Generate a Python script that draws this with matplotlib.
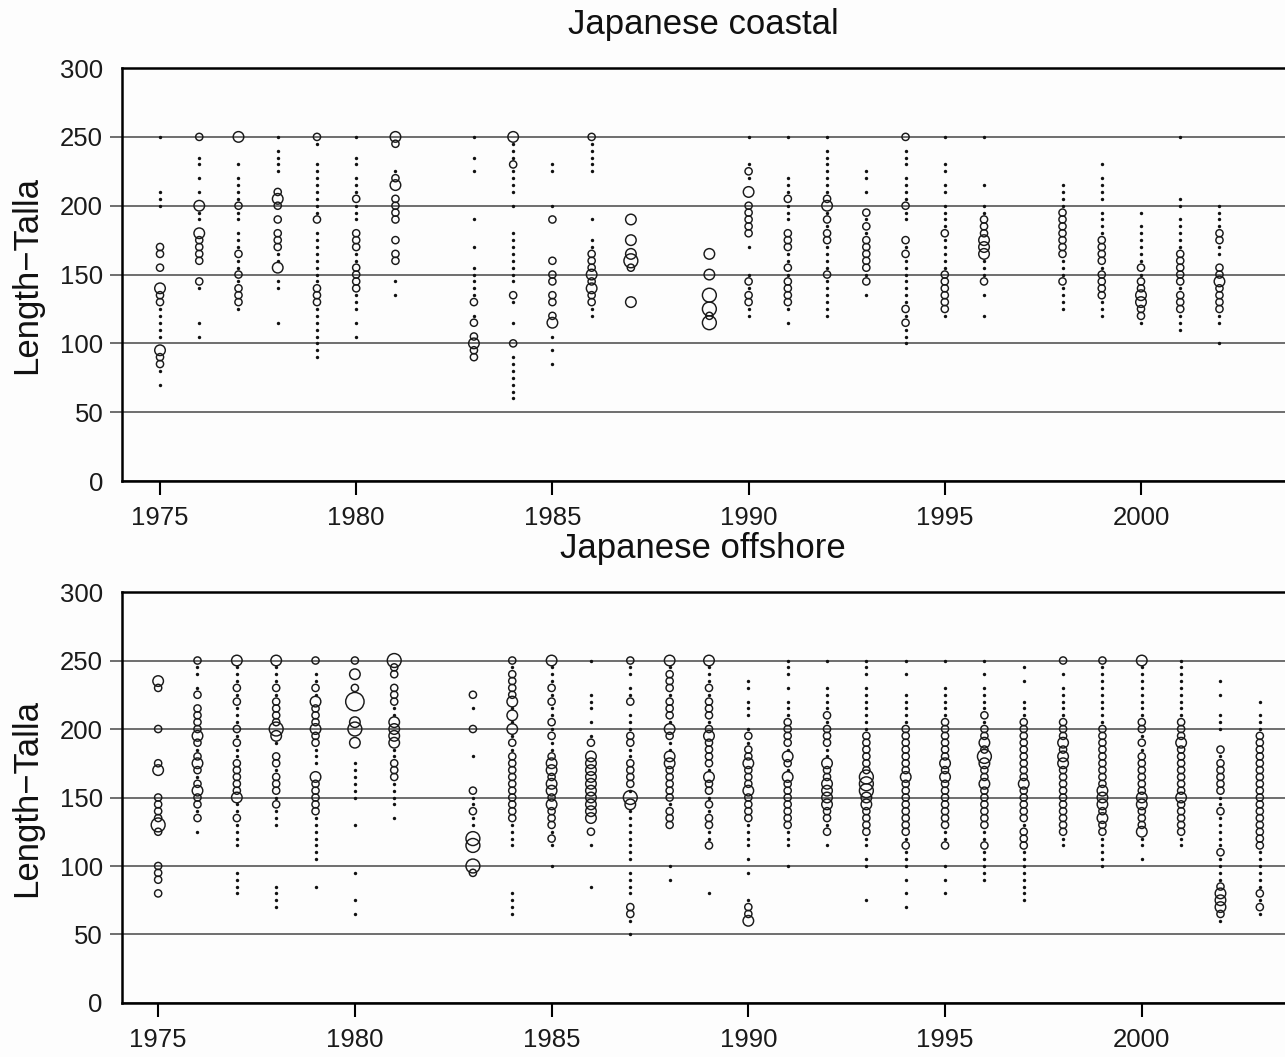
import matplotlib.pyplot as plt

plt.rcParams['font.family'] = ['Liberation Sans', 'DejaVu Sans']

# size class of each 5 cm length bin: 1 = few (dot), 2..5 = increasing frequency (circles)
coastal_years = [1975, 1976, 1977, 1978, 1979, 1980, 1981, 1983, 1984, 1985, 1986, 1987,
                 1989, 1990, 1991, 1992, 1993, 1994, 1995, 1996, 1998, 1999, 2000, 2001, 2002]
coastal_obs = [
    [(250, 1), (210, 1), (205, 1), (200, 1), (170, 2), (165, 2), (155, 2), (140, 3), (135, 2), (130, 2), (125, 1),
     (120, 1), (115, 1), (110, 1), (105, 1), (95, 3), (90, 2), (85, 2), (80, 1), (70, 1)],
    [(250, 2), (235, 1), (230, 1), (220, 1), (210, 1), (200, 3), (195, 1), (190, 1), (180, 3), (175, 2), (170, 2),
     (165, 2), (160, 2), (145, 2), (140, 1), (115, 1), (105, 1)],
    [(250, 3), (230, 1), (220, 1), (215, 1), (210, 1), (205, 1), (200, 2), (195, 1), (190, 1), (180, 1), (175, 1),
     (170, 1), (165, 2), (160, 1), (155, 1), (150, 2), (145, 1), (140, 2), (135, 2), (130, 2), (125, 1)],
    [(250, 1), (240, 1), (235, 1), (230, 1), (225, 1), (210, 2), (205, 3), (200, 2), (190, 2), (180, 2), (175, 2),
     (170, 2), (165, 1), (160, 1), (155, 3), (145, 1), (140, 1), (115, 1)],
    [(250, 2), (245, 1), (230, 1), (225, 1), (220, 1), (215, 1), (210, 1), (205, 1), (200, 1), (195, 1), (190, 2),
     (180, 1), (175, 1), (170, 1), (165, 1), (160, 1), (155, 1), (150, 1), (145, 1), (140, 2), (135, 2), (130, 2),
     (125, 1), (120, 1), (115, 1), (110, 1), (105, 1), (100, 1), (95, 1), (90, 1)],
    [(250, 1), (235, 1), (230, 1), (220, 1), (215, 1), (210, 1), (205, 2), (200, 1), (195, 1), (190, 1), (180, 2),
     (175, 2), (170, 2), (165, 1), (160, 1), (155, 2), (150, 2), (145, 2), (140, 2), (135, 1), (130, 1), (125, 1),
     (115, 1), (105, 1)],
    [(250, 3), (245, 2), (225, 1), (220, 2), (215, 3), (205, 2), (200, 2), (195, 2), (190, 2), (175, 2), (165, 2),
     (160, 2), (145, 1), (135, 1)],
    [(250, 1), (235, 1), (225, 1), (190, 1), (170, 1), (155, 1), (150, 1), (145, 1), (140, 1), (135, 1), (130, 2),
     (120, 1), (115, 2), (105, 2), (100, 3), (95, 2), (90, 2)],
    [(250, 3), (245, 1), (240, 1), (235, 1), (230, 2), (225, 1), (220, 1), (215, 1), (210, 1), (200, 1), (180, 1),
     (175, 1), (170, 1), (165, 1), (160, 1), (155, 1), (150, 1), (145, 1), (135, 2), (130, 1), (115, 1), (100, 2),
     (90, 1), (85, 1), (80, 1), (75, 1), (70, 1), (65, 1), (60, 1)],
    [(230, 1), (225, 1), (200, 1), (190, 2), (160, 2), (150, 2), (145, 2), (135, 2), (130, 2), (120, 2), (115, 3),
     (105, 1), (95, 1), (85, 1)],
    [(250, 2), (245, 1), (240, 1), (235, 1), (230, 1), (225, 1), (190, 1), (175, 1), (170, 1), (165, 2), (160, 2),
     (155, 2), (150, 3), (145, 2), (140, 3), (135, 2), (130, 2), (125, 1), (120, 1)],
    [(190, 3), (175, 3), (165, 3), (160, 4), (155, 2), (130, 3)],
    [(165, 3), (150, 3), (135, 4), (125, 4), (120, 2), (115, 4)],
    [(250, 1), (230, 1), (225, 2), (220, 1), (210, 3), (200, 2), (195, 2), (190, 2), (185, 2), (180, 2), (170, 1),
     (150, 1), (145, 2), (140, 1), (135, 2), (130, 2), (125, 1), (120, 1)],
    [(250, 1), (220, 1), (215, 1), (210, 1), (205, 2), (200, 1), (195, 1), (190, 1), (180, 2), (175, 2), (170, 2),
     (165, 1), (160, 1), (155, 2), (150, 1), (145, 2), (140, 2), (135, 2), (130, 2), (125, 1), (115, 1)],
    [(250, 1), (240, 1), (235, 1), (230, 1), (225, 1), (220, 1), (215, 1), (210, 1), (205, 2), (200, 3), (195, 1),
     (190, 2), (185, 1), (180, 2), (175, 2), (170, 1), (165, 1), (160, 1), (155, 1), (150, 2), (145, 1), (140, 1),
     (135, 1), (130, 1), (125, 1), (120, 1)],
    [(225, 1), (220, 1), (210, 1), (195, 2), (190, 1), (185, 2), (180, 1), (175, 2), (170, 2), (165, 2), (160, 2),
     (155, 2), (150, 1), (145, 2), (135, 1)],
    [(250, 2), (240, 1), (235, 1), (230, 1), (220, 1), (215, 1), (210, 1), (205, 1), (200, 2), (195, 1), (190, 1),
     (175, 2), (170, 1), (165, 2), (160, 1), (155, 1), (150, 1), (145, 1), (140, 1), (135, 1), (130, 1), (125, 2),
     (120, 1), (115, 2), (110, 1), (105, 1), (100, 1)],
    [(250, 1), (230, 1), (225, 1), (215, 1), (210, 1), (200, 1), (195, 1), (190, 1), (185, 1), (180, 2), (175, 1),
     (170, 1), (165, 1), (160, 1), (155, 1), (150, 2), (145, 2), (140, 2), (135, 2), (130, 2), (125, 2), (120, 1)],
    [(250, 1), (215, 1), (200, 1), (195, 1), (190, 2), (185, 2), (180, 2), (175, 3), (170, 3), (165, 3), (160, 1),
     (155, 1), (150, 1), (145, 2), (135, 1), (120, 1)],
    [(215, 1), (210, 1), (205, 1), (200, 1), (195, 2), (190, 2), (185, 2), (180, 2), (175, 2), (170, 2), (165, 2),
     (160, 1), (155, 1), (150, 1), (145, 2), (140, 1), (135, 1), (130, 1), (125, 1)],
    [(230, 1), (220, 1), (215, 1), (210, 1), (205, 1), (195, 1), (190, 1), (185, 1), (180, 1), (175, 2), (170, 2),
     (165, 2), (160, 2), (155, 1), (150, 2), (145, 2), (140, 2), (135, 2), (130, 1), (125, 1), (120, 1)],
    [(195, 1), (185, 1), (180, 1), (175, 1), (170, 1), (165, 1), (160, 1), (155, 2), (150, 1), (145, 2), (140, 2),
     (135, 3), (130, 3), (125, 2), (120, 2), (115, 1)],
    [(250, 1), (205, 1), (200, 1), (190, 1), (185, 1), (180, 1), (175, 1), (170, 1), (165, 2), (160, 2), (155, 2),
     (150, 2), (145, 2), (140, 1), (135, 2), (130, 2), (125, 2), (120, 1), (115, 1), (110, 1)],
    [(200, 1), (195, 1), (190, 1), (185, 1), (180, 2), (175, 2), (170, 1), (165, 1), (155, 2), (150, 2), (145, 3),
     (140, 2), (135, 2), (130, 2), (125, 2), (120, 1), (115, 1), (100, 1)],
]

offshore_years = [1975, 1976, 1977, 1978, 1979, 1980, 1981, 1983, 1984, 1985, 1986, 1987, 1988, 1989,
                  1990, 1991, 1992, 1993, 1994, 1995, 1996, 1997, 1998, 1999, 2000, 2001, 2002, 2003]
offshore_obs = [
    [(235, 3), (230, 2), (200, 2), (175, 2), (170, 3), (150, 2), (145, 2), (140, 2), (135, 2), (130, 4), (125, 2),
     (100, 2), (95, 2), (90, 2), (80, 2)],
    [(250, 2), (245, 1), (240, 1), (230, 1), (225, 2), (215, 2), (210, 2), (205, 2), (200, 2), (195, 3), (190, 2),
     (185, 1), (180, 2), (175, 3), (170, 2), (165, 1), (160, 2), (155, 3), (150, 2), (145, 2), (140, 1), (135, 2),
     (125, 1)],
    [(250, 3), (245, 1), (240, 1), (235, 1), (230, 2), (225, 1), (220, 2), (215, 1), (210, 1), (205, 1), (200, 2),
     (195, 1), (190, 2), (185, 1), (180, 1), (175, 2), (170, 2), (165, 2), (160, 2), (155, 2), (150, 3), (145, 1),
     (140, 1), (135, 2), (130, 1), (125, 1), (120, 1), (115, 1), (95, 1), (90, 1), (85, 1), (80, 1)],
    [(250, 3), (245, 1), (240, 1), (235, 1), (230, 2), (225, 1), (220, 2), (215, 2), (210, 2), (205, 2), (200, 4),
     (195, 3), (190, 1), (180, 2), (175, 2), (170, 1), (165, 2), (160, 2), (155, 2), (150, 1), (145, 2), (140, 1),
     (135, 1), (130, 1), (85, 1), (80, 1), (75, 1), (70, 1)],
    [(250, 2), (240, 1), (235, 1), (230, 2), (225, 1), (220, 3), (215, 2), (210, 2), (205, 2), (200, 3), (195, 2),
     (190, 2), (185, 1), (180, 1), (175, 1), (165, 3), (160, 2), (155, 2), (150, 2), (145, 2), (140, 2), (135, 1),
     (130, 1), (125, 1), (120, 1), (115, 1), (110, 1), (105, 1), (85, 1)],
    [(250, 2), (240, 3), (230, 2), (220, 5), (205, 3), (200, 4), (190, 3), (175, 1), (170, 1), (165, 1), (160, 1),
     (155, 1), (150, 1), (130, 1), (95, 1), (75, 1), (65, 1)],
    [(250, 4), (245, 2), (240, 2), (230, 2), (225, 2), (220, 2), (215, 1), (210, 1), (205, 3), (200, 3), (195, 3),
     (190, 3), (185, 1), (180, 1), (175, 2), (170, 2), (165, 2), (160, 1), (155, 1), (150, 1), (145, 1), (135, 1)],
    [(225, 2), (215, 1), (200, 2), (180, 1), (155, 2), (150, 1), (145, 1), (140, 2), (135, 1), (130, 1), (120, 4),
     (115, 4), (100, 4), (95, 2)],
    [(250, 2), (245, 1), (240, 2), (235, 2), (230, 2), (225, 2), (220, 3), (215, 1), (210, 3), (205, 1), (200, 3),
     (195, 1), (190, 2), (185, 1), (180, 2), (175, 2), (170, 2), (165, 2), (160, 2), (155, 2), (150, 2), (145, 2),
     (140, 2), (135, 2), (130, 1), (125, 1), (120, 1), (115, 1), (80, 1), (75, 1), (70, 1), (65, 1)],
    [(250, 3), (245, 1), (240, 1), (235, 1), (230, 2), (225, 1), (220, 2), (215, 1), (210, 1), (205, 2), (200, 1),
     (195, 2), (190, 1), (185, 1), (180, 2), (175, 3), (170, 3), (165, 2), (160, 3), (155, 3), (150, 2), (145, 3),
     (140, 2), (135, 2), (130, 2), (125, 1), (120, 2), (115, 1), (100, 1)],
    [(250, 1), (225, 1), (220, 1), (215, 1), (205, 1), (195, 1), (190, 2), (180, 3), (175, 3), (170, 3), (165, 3),
     (160, 3), (155, 3), (150, 3), (145, 3), (140, 3), (135, 3), (125, 2), (115, 1), (85, 1)],
    [(250, 2), (245, 1), (240, 1), (230, 1), (225, 1), (220, 2), (210, 1), (205, 1), (200, 1), (195, 2), (190, 2),
     (185, 1), (180, 1), (175, 2), (170, 2), (165, 2), (160, 2), (155, 1), (150, 4), (145, 3), (140, 1), (135, 1),
     (130, 1), (125, 1), (120, 1), (115, 1), (110, 1), (105, 1), (95, 1), (90, 1), (85, 1), (80, 1), (70, 2),
     (65, 2), (60, 1), (50, 1)],
    [(250, 3), (245, 1), (240, 2), (235, 2), (230, 2), (225, 1), (220, 2), (215, 2), (210, 2), (205, 1), (200, 3),
     (195, 2), (190, 1), (185, 1), (180, 3), (175, 3), (170, 2), (165, 2), (160, 2), (155, 2), (150, 2), (145, 1),
     (140, 2), (135, 2), (130, 2), (100, 1), (90, 1)],
    [(250, 3), (245, 1), (240, 1), (235, 1), (230, 2), (225, 1), (220, 2), (215, 2), (210, 2), (205, 1), (200, 2),
     (195, 3), (190, 2), (185, 2), (180, 2), (175, 2), (170, 1), (165, 3), (160, 2), (155, 2), (150, 1), (145, 2),
     (140, 1), (135, 2), (130, 2), (125, 1), (120, 1), (115, 2), (80, 1)],
    [(235, 1), (230, 1), (220, 1), (215, 1), (210, 1), (200, 1), (195, 2), (190, 1), (185, 2), (180, 2), (175, 3),
     (170, 2), (165, 2), (160, 2), (155, 3), (150, 2), (145, 2), (140, 2), (135, 2), (130, 1), (125, 1), (120, 1),
     (115, 1), (105, 1), (95, 1), (75, 1), (70, 2), (65, 2), (60, 3)],
    [(250, 1), (245, 1), (240, 1), (230, 1), (220, 1), (215, 1), (210, 1), (205, 2), (200, 2), (195, 2), (190, 2),
     (185, 1), (180, 3), (175, 2), (170, 1), (165, 3), (160, 2), (155, 2), (150, 2), (145, 2), (140, 2), (135, 2),
     (130, 2), (125, 1), (120, 1), (115, 1), (100, 1)],
    [(250, 1), (230, 1), (225, 1), (220, 1), (215, 1), (210, 2), (205, 1), (200, 2), (195, 2), (190, 2), (185, 1),
     (180, 1), (175, 3), (170, 2), (165, 2), (160, 3), (155, 3), (150, 3), (145, 3), (140, 2), (135, 2), (130, 1),
     (125, 2), (115, 1)],
    [(250, 1), (245, 1), (240, 1), (230, 1), (225, 1), (220, 1), (215, 1), (210, 1), (205, 1), (200, 1), (195, 2),
     (190, 2), (185, 2), (180, 2), (175, 2), (170, 2), (165, 4), (160, 4), (155, 4), (150, 3), (145, 3), (140, 2),
     (135, 2), (130, 2), (125, 2), (120, 1), (115, 1), (105, 1), (100, 1), (75, 1)],
    [(250, 1), (240, 1), (225, 1), (220, 1), (215, 1), (210, 1), (205, 1), (200, 2), (195, 2), (190, 2), (185, 2),
     (180, 2), (175, 2), (170, 2), (165, 3), (160, 2), (155, 2), (150, 2), (145, 2), (140, 2), (135, 2), (130, 2),
     (125, 2), (120, 1), (115, 2), (110, 1), (105, 1), (100, 1), (90, 1), (80, 1), (70, 1)],
    [(250, 1), (230, 1), (225, 1), (220, 1), (215, 1), (210, 1), (205, 2), (200, 2), (195, 2), (190, 2), (185, 2),
     (180, 2), (175, 3), (170, 2), (165, 3), (160, 2), (155, 2), (150, 2), (145, 2), (140, 2), (135, 2), (130, 2),
     (125, 1), (120, 1), (115, 2), (100, 1), (90, 1), (80, 1)],
    [(250, 1), (240, 1), (230, 1), (225, 1), (220, 1), (215, 1), (210, 2), (205, 1), (200, 2), (195, 2), (190, 3),
     (185, 2), (180, 4), (175, 3), (170, 2), (165, 2), (160, 3), (155, 2), (150, 2), (145, 2), (140, 2), (135, 2),
     (130, 2), (125, 1), (120, 1), (115, 2), (110, 1), (105, 1), (100, 1), (95, 1), (90, 1)],
    [(245, 1), (235, 1), (220, 1), (215, 1), (210, 1), (205, 2), (200, 2), (195, 2), (190, 2), (185, 2), (180, 2),
     (175, 2), (170, 2), (165, 2), (160, 3), (155, 2), (150, 2), (145, 2), (140, 2), (135, 2), (130, 1), (125, 2),
     (120, 2), (115, 2), (110, 1), (105, 1), (100, 1), (95, 1), (90, 1), (85, 1), (80, 1), (75, 1)],
    [(250, 2), (240, 1), (230, 1), (225, 1), (220, 1), (215, 1), (210, 1), (205, 2), (200, 2), (195, 2), (190, 3),
     (185, 2), (180, 3), (175, 3), (170, 2), (165, 2), (160, 2), (155, 2), (150, 2), (145, 2), (140, 2), (135, 2),
     (130, 2), (125, 2), (120, 1), (115, 1)],
    [(250, 2), (245, 1), (240, 1), (235, 1), (230, 1), (225, 1), (220, 1), (215, 1), (210, 1), (205, 1), (200, 2),
     (195, 2), (190, 2), (185, 2), (180, 2), (175, 2), (170, 2), (165, 2), (160, 2), (155, 3), (150, 3), (145, 3),
     (140, 2), (135, 3), (130, 2), (125, 2), (120, 1), (115, 1), (110, 1), (105, 1), (100, 1)],
    [(250, 3), (245, 1), (240, 1), (235, 1), (230, 1), (225, 1), (220, 1), (215, 1), (210, 1), (205, 2), (200, 2),
     (195, 1), (190, 2), (185, 1), (180, 2), (175, 2), (170, 2), (165, 2), (160, 2), (155, 2), (150, 3), (145, 3),
     (140, 2), (135, 2), (130, 2), (125, 3), (120, 1), (115, 1), (105, 1)],
    [(250, 1), (245, 1), (240, 1), (235, 1), (230, 1), (225, 1), (220, 1), (215, 1), (210, 1), (205, 2), (200, 2),
     (195, 2), (190, 3), (185, 2), (180, 2), (175, 2), (170, 2), (165, 2), (160, 2), (155, 2), (150, 3), (145, 2),
     (140, 2), (135, 2), (130, 2), (125, 2), (120, 1), (115, 1)],
    [(235, 1), (225, 1), (210, 1), (205, 1), (200, 1), (185, 2), (180, 1), (175, 2), (170, 2), (165, 2), (160, 2),
     (155, 2), (150, 1), (145, 1), (140, 2), (135, 1), (130, 1), (125, 1), (120, 1), (115, 1), (110, 2), (105, 1),
     (100, 1), (95, 1), (90, 1), (85, 2), (80, 3), (75, 3), (70, 3), (65, 2), (60, 1)],
    [(220, 1), (210, 1), (205, 1), (200, 1), (195, 2), (190, 2), (185, 2), (180, 2), (175, 2), (170, 2), (165, 2),
     (160, 2), (155, 2), (150, 2), (145, 2), (140, 2), (135, 2), (130, 2), (125, 2), (120, 2), (115, 2), (110, 1),
     (105, 1), (100, 1), (95, 1), (90, 1), (85, 1), (80, 2), (75, 1), (70, 2), (65, 1)],
]

year_ticks = [1975, 1980, 1985, 1990, 1995, 2000]
length_ticks = [0, 50, 100, 150, 200, 250, 300]

# marker area (pt^2) for each size class
AREA = {2: 27, 3: 58, 4: 100, 5: 175}


def bubble_panel(ax, years, obs, title, xlim):
    dot_x, dot_y, circ_x, circ_y, circ_s = [], [], [], [], []
    for yr, pts in zip(years, obs):
        for ln, c in pts:
            if c == 1:
                dot_x.append(yr)
                dot_y.append(ln)
            else:
                circ_x.append(yr)
                circ_y.append(ln)
                circ_s.append(AREA[c])
    ax.scatter(dot_x, dot_y, s=6, color="#111111", linewidths=0, zorder=3)
    ax.scatter(circ_x, circ_y, s=circ_s, facecolors="none", edgecolors="#1a1a1a",
               linewidths=1.05, zorder=3)

    ax.set_xlim(*xlim)
    ax.set_ylim(0, 300)
    ax.set_xticks(year_ticks)
    ax.set_yticks(length_ticks)
    ax.set_facecolor("#fdfdfd")
    ax.yaxis.grid(True, color="#555555", linewidth=1.2)
    ax.set_axisbelow(True)
    for side in ["left", "top", "bottom"]:
        ax.spines[side].set_linewidth(1.8)
    ax.spines["right"].set_visible(False)
    ax.tick_params(axis="x", direction="out", length=10, width=1.5, labelsize=18.5, pad=8,
                   labelcolor="#1a1a1a")
    ax.tick_params(axis="y", direction="out", length=8.5, width=1.2, color="#555555",
                   labelsize=18.5, pad=5, labelcolor="#1a1a1a")
    yt = ax.yaxis.get_major_ticks()
    yt[0].tick1line.set_visible(False)
    yt[-1].tick1line.set_visible(False)
    ax.set_title(title, fontsize=25, pad=24.5, color="#111111")


fig = plt.figure(figsize=(12.85, 10.57), dpi=100, facecolor="#fdfdfd")
ax1 = fig.add_axes([0.0949, 0.5449, 0.9051, 0.3907])
ax2 = fig.add_axes([0.0946, 0.0511, 0.9054, 0.3888])

bubble_panel(ax1, coastal_years, coastal_obs, "Japanese coastal", (1974.03, 2003.67))
bubble_panel(ax2, offshore_years, offshore_obs, "Japanese offshore", (1974.07, 2003.64))

fig.text(27 / 1285, 0.7403, "Length\u2212Talla", rotation=90, fontsize=25, ha="center", va="center",
         color="#111111")
fig.text(27 / 1285, 0.2455, "Length\u2212Talla", rotation=90, fontsize=25, ha="center", va="center",
         color="#111111")

fig.savefig("out.png", dpi=100, facecolor=fig.get_facecolor())
